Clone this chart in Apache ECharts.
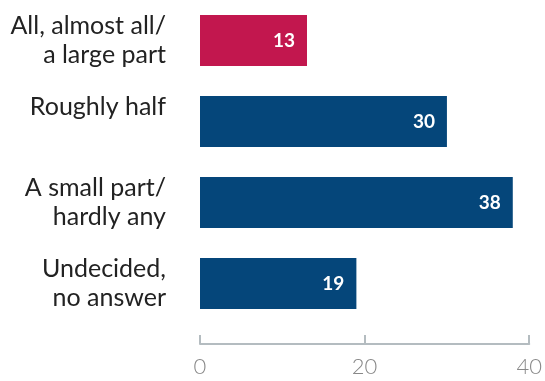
<!DOCTYPE html>
<html>
<head>
<meta charset="utf-8">
<script src="https://cdn.jsdelivr.net/npm/echarts@6/dist/echarts.min.js"></script>
<style>
  html, body { margin: 0; padding: 0; background: #fff; }
  #chart { width: 545px; height: 381px; }
</style>
</head>
<body>
<div id="chart"></div>
<script>
const categories = [
  'All, almost all/\na large part',
  'Roughly half\n ',
  'A small part/\nhardly any',
  'Undecided,\nno answer'
];
const values = [13, 30, 38, 19];
const barColors = ['#c2174e', '#05467a', '#05467a', '#05467a'];
const xTicks = [0, 20, 40];

const chart = echarts.init(document.getElementById('chart'));
chart.setOption({
  animation: false,
  grid: { left: 200, right: 14, top: -5, bottom: 57 },
  xAxis: {
    type: 'value',
    min: xTicks[0],
    max: xTicks[xTicks.length - 1],
    interval: 20,
    offset: 20,
    splitLine: { show: false },
    axisLine: { show: true, lineStyle: { color: '#b4bcc0', width: 2 } },
    axisTick: { show: true, inside: true, length: 9, lineStyle: { color: '#b4bcc0', width: 2 } },
    axisLabel: { color: '#888', fontSize: 22, fontFamily: 'Lato', fontWeight: 300, margin: 12 }
  },
  yAxis: {
    type: 'category',
    inverse: true,
    data: categories,
    axisLine: { show: false },
    axisTick: { show: false },
    axisLabel: {
      color: '#222',
      fontSize: 25,
      fontFamily: 'Lato',
      lineHeight: 29,
      align: 'right',
      margin: 34
    }
  },
  series: [{
    type: 'bar',
    data: values.map((v, i) => ({ value: v, itemStyle: { color: barColors[i] } })),
    barCategoryGap: '37%',
    label: {
      show: true,
      position: 'insideRight',
      distance: 12,
      color: '#fff',
      fontWeight: 'bold',
      fontSize: 19,
      fontFamily: 'Lato'
    }
  }]
});
</script>
</body>
</html>
